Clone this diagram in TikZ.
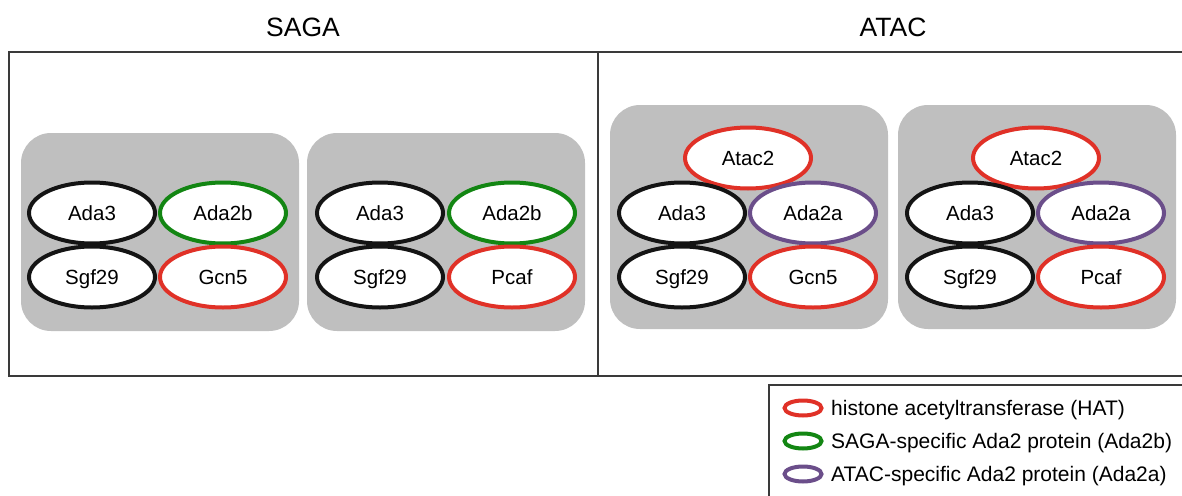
\documentclass[tikz,border=0pt]{standalone}
\usepackage{fontspec}
\setmainfont{Liberation Sans}
\usetikzlibrary{shapes.geometric}
\definecolor{hatred}{HTML}{E03127}
\definecolor{sagagreen}{HTML}{138613}
\definecolor{atacpurple}{HTML}{6B4E8A}
\definecolor{modulegray}{HTML}{BFBFBF}
\definecolor{framegray}{HTML}{3A3A3A}
\tikzset{
  subunit/.style={ellipse, draw, line width=4pt, fill=white, minimum width=126pt,
    minimum height=61pt, inner sep=0pt, text height=14.5pt, text depth=0pt,
    font=\fontsize{20.5}{24}\selectfont},
  plain/.style={subunit, draw=black!92},
  hat/.style={subunit, draw=hatred},
  adab/.style={subunit, draw=sagagreen},
  adaa/.style={subunit, draw=atacpurple},
  module/.style={fill=modulegray, rounded corners=30pt},
  frame/.style={draw=framegray, line width=1.5pt},
  title/.style={font=\fontsize{26.5}{30}\selectfont, inner sep=0pt},
  keyicon/.style={ellipse, draw, line width=4pt, fill=white, minimum width=37pt,
    minimum height=15pt, inner sep=0pt},
  keytext/.style={anchor=west, font=\fontsize{21}{24}\selectfont, inner sep=0pt,
    text height=15pt, text depth=0pt}
}
\begin{document}
\begin{tikzpicture}[x=1pt,y=-1pt]
\useasboundingbox (0,0) rectangle (1182,495);

% complex titles
\node[title] (sagatitle) at (303,27) {SAGA};
\node[title] (atactitle) at (893,27) {ATAC};

% outer frame with divider
\draw[frame] (1195,52) -- (9,52) -- (9,376) -- (1195,376);
\draw[frame] (598,52) -- (598,376);

% SAGA modules
\fill[module] (21,133) rectangle (299,331);
\node[plain] (s1ada3) at (92,213) {Ada3};
\node[adab]  (s1ada2b) at (223,213) {Ada2b};
\node[plain] (s1sgf29) at (92,277) {Sgf29};
\node[hat]   (s1gcn5) at (223,277) {Gcn5};

\fill[module] (307,133) rectangle (585,331);
\node[plain] (s2ada3) at (380,213) {Ada3};
\node[adab]  (s2ada2b) at (512,213) {Ada2b};
\node[plain] (s2sgf29) at (380,277) {Sgf29};
\node[hat]   (s2pcaf) at (512,277) {Pcaf};

% ATAC modules
\fill[module] (610,105) rectangle (888,329);
\node[hat]   (a1atac2) at (748,158) {Atac2};
\node[plain] (a1ada3) at (682,213) {Ada3};
\node[adaa]  (a1ada2a) at (813,213) {Ada2a};
\node[plain] (a1sgf29) at (682,277) {Sgf29};
\node[hat]   (a1gcn5) at (813,277) {Gcn5};

\fill[module] (898,105) rectangle (1176,329);
\node[hat]   (a2atac2) at (1036,158) {Atac2};
\node[plain] (a2ada3) at (970,213) {Ada3};
\node[adaa]  (a2ada2a) at (1101,213) {Ada2a};
\node[plain] (a2sgf29) at (970,277) {Sgf29};
\node[hat]   (a2pcaf) at (1101,277) {Pcaf};

% legend
\draw[frame] (1195,385) -- (769,385) -- (769,500);
\node[keyicon, draw=hatred] (khat) at (803,408) {};
\node[keytext] (khatt) at (831,408) {histone acetyltransferase (HAT)};
\node[keyicon, draw=sagagreen] (kb) at (803,441) {};
\node[keytext] (kbt) at (831,441) {SAGA-specific Ada2 protein (Ada2b)};
\node[keyicon, draw=atacpurple] (ka) at (803,474) {};
\node[keytext] (kat) at (831,474) {ATAC-specific Ada2 protein (Ada2a)};
\end{tikzpicture}
\end{document}
